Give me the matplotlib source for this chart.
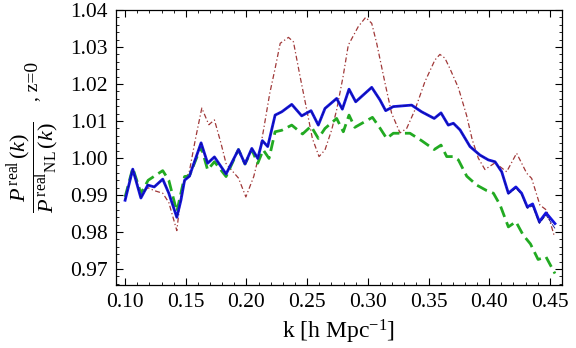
import matplotlib
matplotlib.use('Agg')
import matplotlib.pyplot as plt
from matplotlib.ticker import MultipleLocator, FormatStrFormatter

plt.rcParams['font.family'] = ['Liberation Serif', 'DejaVu Serif']
plt.rcParams['mathtext.fontset'] = 'custom'
plt.rcParams['mathtext.rm'] = 'Liberation Serif'
plt.rcParams['mathtext.it'] = 'Liberation Serif:italic'
plt.rcParams['mathtext.bf'] = 'Liberation Serif:bold'

# blue solid curve
k_blue = [0.100, 0.1063, 0.113, 0.1187, 0.124, 0.131, 0.136, 0.1426, 0.146, 0.149,
          0.153, 0.1626, 0.168, 0.1736, 0.1832, 0.1934, 0.1988, 0.2044, 0.2093, 0.2131,
          0.2175, 0.2236, 0.2291, 0.2373, 0.2455, 0.2532, 0.2592, 0.2647, 0.2743, 0.279,
          0.2845, 0.290, 0.3032, 0.310, 0.3147, 0.321, 0.3361, 0.3443, 0.3547, 0.3603,
          0.3663, 0.3705, 0.376, 0.3842, 0.3924, 0.3993, 0.4048, 0.4103, 0.4158, 0.422,
          0.4267, 0.4314, 0.4358, 0.4413, 0.4468, 0.4542]
p_blue = [0.9886, 0.9970, 0.9892, 0.9927, 0.9922, 0.9943, 0.9905, 0.9840, 0.9886, 0.9940,
          0.9951, 1.0041, 0.9986, 1.0003, 0.9957, 1.0023, 0.9984, 1.0026, 0.9999, 1.0047,
          1.0031, 1.0116, 1.0125, 1.0145, 1.0114, 1.0128, 1.0089, 1.0134, 1.0161, 1.0132,
          1.0186, 1.0152, 1.0191, 1.0157, 1.0128, 1.0139, 1.0143, 1.0125, 1.0107, 1.0122,
          1.0089, 1.0094, 1.0076, 1.0031, 1.0008, 0.9995, 0.9990, 0.9963, 0.9905, 0.9922,
          0.9905, 0.9868, 0.9876, 0.9828, 0.9852, 0.9823]

# thin dark blue curve (almost on top of the blue one)
k_navy = [0.100, 0.1063, 0.113, 0.1187, 0.124, 0.131, 0.136, 0.1426, 0.146, 0.149,
          0.153, 0.1626, 0.168, 0.1736, 0.1832, 0.1934, 0.1988, 0.2044, 0.2093, 0.2131,
          0.2175, 0.2236, 0.2291, 0.2373, 0.2455, 0.2532, 0.2592, 0.2647, 0.2743, 0.279,
          0.2845, 0.290, 0.3032, 0.310, 0.3147, 0.321, 0.3361, 0.3443, 0.3547, 0.3603,
          0.3663, 0.3705, 0.376, 0.3842, 0.3924, 0.3993, 0.4048, 0.4103, 0.4158, 0.422,
          0.4267, 0.4314, 0.4358, 0.4413, 0.4468, 0.4542]
p_navy = [0.9886, 0.9970, 0.9892, 0.9927, 0.9922, 0.9943, 0.9905, 0.9840, 0.9886, 0.9940,
          0.9951, 1.0041, 0.9986, 1.0003, 0.9957, 1.0023, 0.9984, 1.0026, 0.9999, 1.0047,
          1.0031, 1.0116, 1.0125, 1.0145, 1.0114, 1.0128, 1.0089, 1.0134, 1.0161, 1.0132,
          1.0186, 1.0152, 1.0191, 1.0157, 1.0128, 1.0139, 1.0143, 1.0125, 1.0107, 1.0122,
          1.0089, 1.0094, 1.0076, 1.0031, 1.0008, 0.9995, 0.9990, 0.9962, 0.9903, 0.9919,
          0.9902, 0.9864, 0.9871, 0.9823, 0.9846, 0.9810]

# green dashed curve
k_green = [0.100, 0.1063, 0.113, 0.119, 0.131, 0.136, 0.1426, 0.149, 0.153, 0.1626,
           0.168, 0.1736, 0.1832, 0.1934, 0.1988, 0.2044, 0.2093, 0.2138, 0.2186, 0.2236,
           0.2291, 0.2373, 0.2462, 0.2532, 0.2592, 0.2647, 0.2743, 0.2798, 0.2845, 0.2893,
           0.3038, 0.310, 0.3155, 0.321, 0.3347, 0.3443, 0.3547, 0.3603, 0.365, 0.3705,
           0.3746, 0.3815, 0.3897, 0.398, 0.4035, 0.409, 0.4158, 0.422, 0.428, 0.434,
           0.4403, 0.4468, 0.4542]
p_green = [0.9895, 0.9973, 0.9905, 0.9940, 0.9966, 0.9940, 0.9855, 0.9950, 0.9952, 1.0031,
           0.9968, 0.9990, 0.9950, 1.0023, 0.9984, 1.0022, 0.9986, 1.0022, 0.9999, 1.0071,
           1.0075, 1.0089, 1.0065, 1.0086, 1.0053, 1.0080, 1.0107, 1.0071, 1.0116, 1.0083,
           1.0110, 1.0081, 1.0053, 1.0067, 1.0067, 1.0047, 1.0023, 1.0035, 1.0004, 1.0004,
           0.9995, 0.9951, 0.9927, 0.9912, 0.9905, 0.9873, 0.9814, 0.9828, 0.9792, 0.9768,
           0.9726, 0.9733, 0.9688]

# dark red dash-dot curve
k_red = [0.100, 0.1063, 0.113, 0.1187, 0.124, 0.131, 0.136, 0.1426, 0.146, 0.149,
         0.153, 0.1578, 0.1632, 0.169, 0.1736, 0.179, 0.1832, 0.187, 0.1934, 0.1995,
         0.206, 0.210, 0.2138, 0.2192, 0.2236, 0.2278, 0.2346, 0.2387, 0.2442, 0.2497,
         0.2543, 0.2598, 0.2647, 0.2702, 0.2743, 0.2796, 0.2839, 0.2921, 0.2982, 0.3032,
         0.3073, 0.3142, 0.3196, 0.3265, 0.332, 0.3388, 0.347, 0.3553, 0.3594, 0.3635,
         0.3676, 0.3746, 0.3814, 0.386, 0.391, 0.3965, 0.4048, 0.4144, 0.4226, 0.4309,
         0.435, 0.4418, 0.4474, 0.4534]
p_red = [0.9886, 0.9972, 0.9900, 0.9920, 0.9912, 0.9905, 0.9880, 0.9804, 0.9900, 0.9935,
         0.9965, 1.0049, 1.0135, 1.0090, 1.0103, 1.0040, 0.9985, 0.9970, 0.9946, 0.9895,
         0.9950, 1.0004, 1.0071, 1.0175, 1.0242, 1.0310, 1.0326, 1.0314, 1.0220, 1.0130,
         1.0053, 1.0004, 1.0022, 1.0076, 1.0130, 1.0220, 1.0305, 1.0355, 1.0380, 1.0364,
         1.0310, 1.0202, 1.0121, 1.0068, 1.0080, 1.0130, 1.0206, 1.0265, 1.0280, 1.0270,
         1.0242, 1.0190, 1.0115, 1.0050, 1.0000, 0.9969, 0.9987, 0.9963, 1.0013, 0.9959,
         0.9945, 0.9873, 0.9859, 0.9792]

fig = plt.figure(figsize=(5.76, 3.48), dpi=100)
ax = fig.add_axes([0.2014, 0.181, 0.7743, 0.7903])

ax.plot(k_red, p_red, color='#a03838', lw=0.9, dashes=(4, 2, 1, 2))
ax.plot(k_green, p_green, color='#22aa22', lw=2.0, dashes=(4, 2))
ax.plot(k_blue, p_blue, color='#1414e0', lw=2.0)
ax.plot(k_navy, p_navy, color='#101090', lw=0.6, dashes=(6, 1.5))

ax.set_xlim(0.0925, 0.46)
ax.set_ylim(0.9657, 1.04)
ax.xaxis.set_major_locator(MultipleLocator(0.05))
ax.xaxis.set_minor_locator(MultipleLocator(0.01))
ax.yaxis.set_major_locator(MultipleLocator(0.01))
ax.yaxis.set_minor_locator(MultipleLocator(0.002))
ax.xaxis.set_major_formatter(FormatStrFormatter('%.2f'))
ax.yaxis.set_major_formatter(FormatStrFormatter('%.2f'))
ax.tick_params(which='both', direction='in', top=True, right=True, labelsize=15.5)
ax.tick_params(which='major', length=5, width=0.8, pad=6)
ax.tick_params(which='minor', length=2.5, width=0.6)
for s in ax.spines.values():
    s.set_linewidth(0.9)

ax.set_xlabel(r'k [h Mpc$^{-1}$]', fontsize=17, labelpad=4)
ax.set_ylabel(r'$\dfrac{P^{\,\mathrm{real}}\,(k)}{P^{\,\mathrm{real}}{}_{\mathrm{NL}}\,(k)}$', fontsize=16)
ax.yaxis.set_label_coords(-0.121, 0.43)
fig.text(41 / 576, 1 - 101 / 348, ', z=0', rotation=90, fontsize=14, ha='right', va='bottom')

fig.savefig('out.png', dpi=100)
